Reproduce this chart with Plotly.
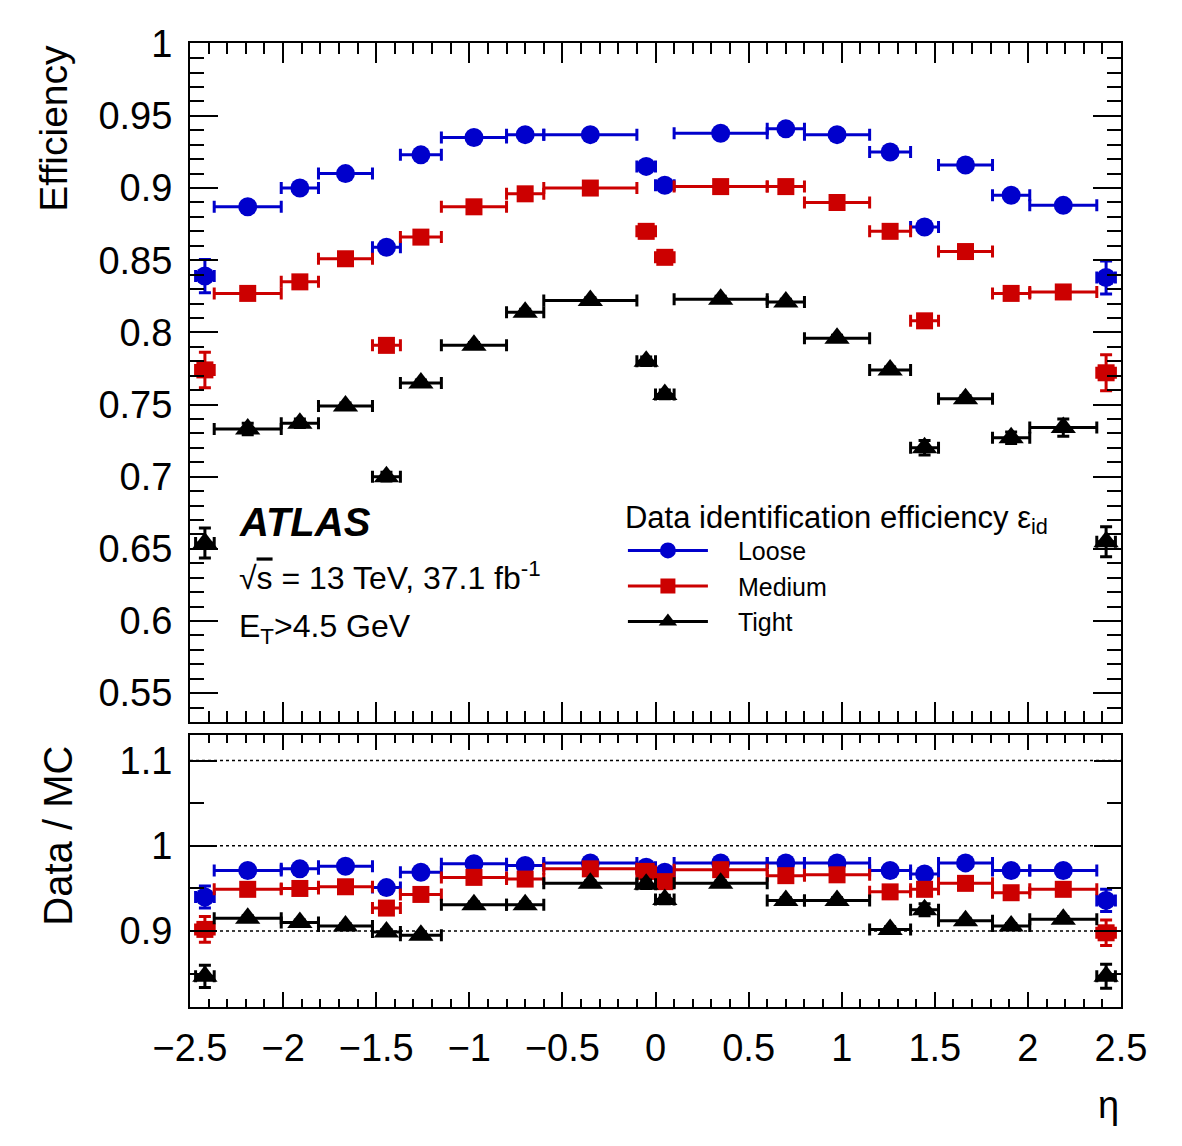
import plotly.graph_objects as go

# ---------------- data ----------------
eta_edges = [-2.47, -2.37, -2.01, -1.81, -1.52, -1.37, -1.15, -0.8, -0.6, -0.1, 0.0,
             0.1, 0.6, 0.8, 1.15, 1.37, 1.52, 1.81, 2.01, 2.37, 2.47]

loose_eff = [0.839, 0.887, 0.900, 0.910, 0.859, 0.923, 0.935, 0.937, 0.937, 0.915,
             0.902, 0.938, 0.941, 0.937, 0.925, 0.873, 0.916, 0.895, 0.888, 0.838]
loose_eff_err = [0.0115, 0.002, 0.002, 0.002, 0.002, 0.002, 0.002, 0.002, 0.002, 0.002,
                 0.002, 0.002, 0.002, 0.002, 0.002, 0.002, 0.002, 0.002, 0.002, 0.0115]

medium_eff = [0.774, 0.827, 0.835, 0.851, 0.791, 0.866, 0.887, 0.896, 0.900, 0.870,
              0.852, 0.901, 0.901, 0.890, 0.870, 0.808, 0.856, 0.827, 0.828, 0.772]
medium_eff_err = [0.0123, 0.002, 0.002, 0.002, 0.002, 0.002, 0.002, 0.002, 0.002, 0.002,
                  0.002, 0.002, 0.002, 0.002, 0.002, 0.003, 0.002, 0.002, 0.003, 0.0125]

tight_eff = [0.654, 0.733, 0.737, 0.749, 0.700, 0.765, 0.791, 0.814, 0.822, 0.780,
             0.757, 0.823, 0.821, 0.796, 0.774, 0.720, 0.754, 0.727, 0.734, 0.655]
tight_eff_err = [0.0104, 0.004, 0.003, 0.002, 0.003, 0.002, 0.002, 0.002, 0.002, 0.003,
                 0.003, 0.002, 0.002, 0.002, 0.002, 0.005, 0.002, 0.004, 0.006, 0.0104]

loose_sf = [0.940, 0.971, 0.973, 0.976, 0.951, 0.969, 0.979, 0.977, 0.980, 0.975,
            0.969, 0.980, 0.980, 0.980, 0.971, 0.967, 0.980, 0.971, 0.971, 0.936]
loose_sf_err = [0.013, 0.003, 0.003, 0.003, 0.003, 0.003, 0.003, 0.003, 0.003, 0.003,
                0.003, 0.003, 0.003, 0.003, 0.003, 0.003, 0.003, 0.003, 0.003, 0.013]

medium_sf = [0.902, 0.949, 0.950, 0.952, 0.927, 0.943, 0.963, 0.961, 0.973, 0.970,
             0.958, 0.972, 0.965, 0.966, 0.946, 0.949, 0.956, 0.945, 0.949, 0.898]
medium_sf_err = [0.015, 0.003, 0.003, 0.003, 0.004, 0.003, 0.003, 0.003, 0.003, 0.003,
                 0.003, 0.003, 0.003, 0.003, 0.003, 0.004, 0.003, 0.003, 0.003, 0.015]

tight_sf = [0.847, 0.915, 0.910, 0.906, 0.899, 0.895, 0.931, 0.931, 0.956, 0.955,
            0.937, 0.956, 0.936, 0.936, 0.902, 0.925, 0.912, 0.906, 0.914, 0.847]
tight_sf_err = [0.013, 0.003, 0.003, 0.003, 0.003, 0.003, 0.003, 0.003, 0.003, 0.005,
                0.005, 0.003, 0.003, 0.003, 0.003, 0.007, 0.003, 0.003, 0.003, 0.014]

series_names = ["Loose", "Medium", "Tight"]
series_colors = ["#0000cc", "#cc0000", "#000000"]
series_symbols = ["circle", "square", "triangle-up"]
series_sizes = [19, 17, 22]
ratio_ref_lines = [0.9, 1.0, 1.1]

# ---------------- derived bin geometry ----------------
centers = [(a + b) / 2 for a, b in zip(eta_edges[:-1], eta_edges[1:])]
halfw = [(b - a) / 2 for a, b in zip(eta_edges[:-1], eta_edges[1:])]

FONT = "Liberation Sans, Arial, Helvetica, sans-serif"

fig = go.Figure()

eff_sets = [(loose_eff, loose_eff_err), (medium_eff, medium_eff_err), (tight_eff, tight_eff_err)]
sf_sets = [(loose_sf, loose_sf_err), (medium_sf, medium_sf_err), (tight_sf, tight_sf_err)]

for i, name in enumerate(series_names):
    col = series_colors[i]
    for (vals, errs), xa, ya in [(eff_sets[i], "x", "y"), (sf_sets[i], "x2", "y2")]:
        fig.add_trace(go.Scatter(
            x=centers, y=vals, xaxis=xa, yaxis=ya, mode="markers", showlegend=False,
            name=name,
            marker=dict(symbol=series_symbols[i], size=series_sizes[i], color=col,
                        line=dict(width=0)),
            error_x=dict(type="data", array=halfw, symmetric=True, color=col,
                         thickness=3, width=6),
            error_y=dict(type="data", array=errs, symmetric=True, color=col,
                         thickness=3, width=6),
        ))

# legend entries
for i, name in enumerate(series_names):
    fig.add_trace(go.Scatter(
        x=[None], y=[None], xaxis="x", yaxis="y", mode="lines+markers",
        name="\u2002\u2002" + name,
        line=dict(color=series_colors[i], width=3),
        marker=dict(symbol=series_symbols[i], size=series_sizes[i] - 2,
                    color=series_colors[i]),
    ))

# dotted reference lines in ratio panel
for v in ratio_ref_lines:
    fig.add_shape(type="line", xref="x2 domain", x0=0, x1=1, yref="y2", y0=v, y1=v,
                  line=dict(color="black", width=1.5, dash="dot"), layer="below")

axis_common = dict(showline=True, linecolor="black", linewidth=2, mirror="ticks",
                   ticks="inside", tickcolor="black", tickwidth=2, showgrid=False,
                   zeroline=False, tickfont=dict(family=FONT, size=38, color="black"))

fig.update_layout(
    width=1182, height=1146,
    margin=dict(l=190, r=61, t=43, b=139),
    paper_bgcolor="white", plot_bgcolor="white",
    font=dict(family=FONT, color="black"),
    xaxis=dict(domain=[0, 1], anchor="y", range=[-2.5, 2.5], matches="x2",
               showticklabels=False, dtick=0.5, tick0=0, ticklen=20,
               minor=dict(ticks="inside", dtick=0.1, tick0=0, ticklen=11,
                          tickwidth=2, tickcolor="black", showgrid=False),
               **axis_common),
    yaxis=dict(domain=[0.2956, 1], anchor="x", range=[0.53, 1.0005], dtick=0.05, tick0=0,
               ticklen=28, ticklabelstandoff=8,
               minor=dict(ticks="inside", dtick=0.01, tick0=0, ticklen=14,
                          tickwidth=2, tickcolor="black", showgrid=False),
               **axis_common),
    xaxis2=dict(domain=[0, 1], anchor="y2", range=[-2.5, 2.5], dtick=0.5, tick0=0,
                ticklen=15, ticklabelstandoff=6,
                minor=dict(ticks="inside", dtick=0.1, tick0=0, ticklen=8,
                           tickwidth=2, tickcolor="black", showgrid=False),
                **axis_common),
    yaxis2=dict(domain=[0, 0.2822], anchor="x2", range=[0.811, 1.13], dtick=0.1, tick0=0,
                ticklen=27, ticklabelstandoff=8,
                minor=dict(ticks="inside", dtick=0.05, tick0=0, ticklen=14,
                           tickwidth=2, tickcolor="black", showgrid=False),
                **axis_common),
    legend=dict(x=0.465, y=0.539, xanchor="left", yanchor="top",
                bgcolor="rgba(0,0,0,0)", font=dict(family=FONT, size=25, color="black"),
                title=dict(text="Data identification efficiency ε<sub>id</sub>",
                           font=dict(family=FONT, size=31, color="black"), side="top"),
                itemwidth=80, tracegroupgap=0),
)

annotations = [
    dict(text="<b><i>ATLAS</i></b>", x=0.051, y=0.503, size=40),
    dict(text="√<span style=\"text-decoration:overline\">s</span> = 13 TeV, 37.1 fb<sup>-1</sup>",
         x=0.051, y=0.447, size=32),
    dict(text="E<sub>T</sub>>4.5 GeV", x=0.051, y=0.393, size=32),
]
for a in annotations:
    fig.add_annotation(xref="paper", yref="paper", xanchor="left", yanchor="middle",
                       showarrow=False, text=a["text"], x=a["x"], y=a["y"],
                       font=dict(family=FONT, color="black", size=a["size"]))

fig.add_annotation(xref="paper", yref="paper", x=-0.147, y=1.0, xanchor="center",
                   yanchor="top", textangle=-90, showarrow=False, text="Efficiency",
                   font=dict(family=FONT, size=39, color="black"))
fig.add_annotation(xref="paper", yref="paper", x=-0.142, y=0.273, xanchor="center",
                   yanchor="top", textangle=-90, showarrow=False, text="Data / MC",
                   font=dict(family=FONT, size=40, color="black"))
fig.add_annotation(xref="paper", yref="paper", x=1.0, y=-0.102, xanchor="right",
                   yanchor="middle", showarrow=False, text="η",
                   font=dict(family=FONT, size=38, color="black"))

fig.write_html("out.html")
